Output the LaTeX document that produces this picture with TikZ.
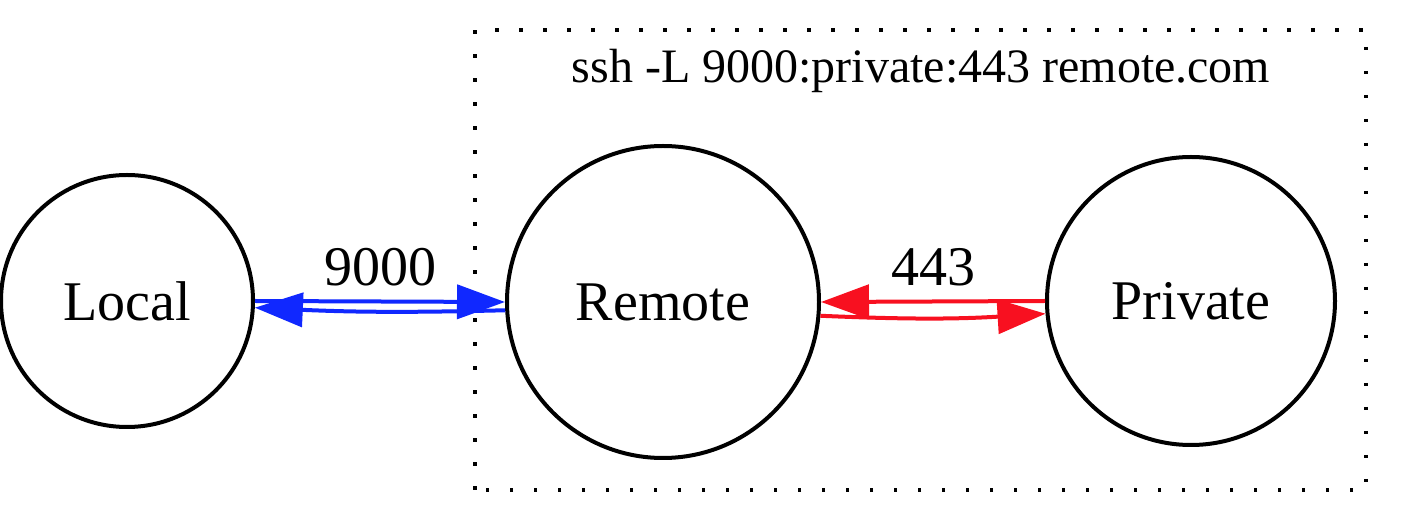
\documentclass[tikz,border=0pt]{standalone}
\usepackage{fontspec}
\setmainfont{Liberation Serif}
\usetikzlibrary{arrows.meta}
\definecolor{portblue}{RGB}{16,40,255}
\definecolor{portred}{RGB}{248,16,32}
\begin{document}
\begin{tikzpicture}[x=0.5pt,y=0.5pt,
    host/.style={draw,circle,line width=2pt,inner sep=0pt,font=\fontsize{28}{34}\selectfont},
    port/.style={line width=2pt,-{Triangle[length=24pt,width=17pt]}},
    lbl/.style={inner sep=0pt,outer sep=0pt,text=black,font=\fontsize{28}{34}\selectfont}]
  \useasboundingbox (0,0) rectangle (1426,530);
  \draw[line width=1.75pt,dash pattern=on 1.75pt off 10.25pt]
    (475,40) rectangle (1366,500);
  \draw
    (127,229) node[host,minimum size=126pt] (local){Local}
    (663,228) node[host,minimum size=156pt] (remote){Remote}
    (1191,229) node[host,minimum size=144pt] (private){Private}
    (921,447) node[anchor=base,font=\fontsize{24}{29}\selectfont] (cmd){ssh -L 9000:private:443 remote.com};
  \begin{scope}[port]
    \draw[portblue] (local.east) -- node[lbl,above=7.5pt] (lport){9000} (remote.west);
    \draw[portblue] (remote.183) to[bend left=2] (local.-3);
    \draw[portred] (private.west) -- node[lbl,above=7.5pt] (rport){443} (remote.east);
    \draw[portred] (remote.-5.5) to[bend right=3] (private.185.5);
  \end{scope}
\end{tikzpicture}
\end{document}
